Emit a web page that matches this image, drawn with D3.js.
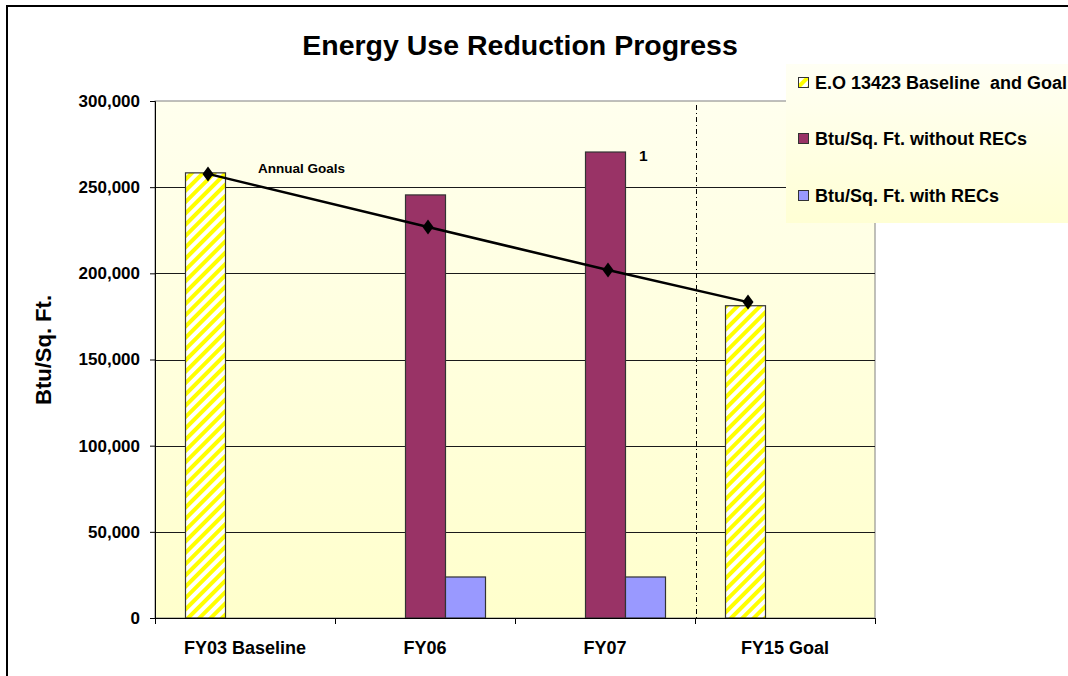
<!DOCTYPE html>
<html>
<head>
<meta charset="utf-8">
<script src="https://cdn.jsdelivr.net/npm/d3@7"></script>
<style>
  html, body { margin: 0; padding: 0; background: #fff; }
  svg { display: block; font-family: "Liberation Sans", Arial, sans-serif; }
  text { white-space: pre; }
</style>
</head>
<body>
<svg id="chart" width="1068" height="676"></svg>
<script>
// ---- data ----
const categories = ["FY03 Baseline", "FY06", "FY07", "FY15 Goal"];
const seriesNames = ["E.O 13423 Baseline  and Goal", "Btu/Sq. Ft. without RECs", "Btu/Sq. Ft. with RECs"];
const baselineGoal = [258300, null, null, 181200];
const withoutRECs = [null, 245500, 270400, null];
const withRECs = [null, 23800, 23800, null];
const annualGoals = [257700, 226900, 201900, 183300];
const yTicks = [0, 50000, 100000, 150000, 200000, 250000, 300000];
const titleText = "Energy Use Reduction Progress";
const yAxisTitle = "Btu/Sq. Ft.";
const goalLabel = "Annual Goals";
const footnoteMark = "1";

const seriesValues = [baselineGoal, withoutRECs, withRECs];
const seriesFills = ["url(#hatch)", "#993366", "#9999FF"];

// ---- layout ----
const svg = d3.select("#chart");
const plot = { left: 155, right: 875, top: 101, bottom: 618 };

const x = d3.scaleBand().domain(categories).range([plot.left, plot.right]).padding(0);
const inner = d3.scaleBand().domain(seriesNames).range([0, x.bandwidth()]).paddingInner(0).paddingOuter(0.75);
const y = d3.scaleLinear().domain([0, 300000]).range([plot.bottom, plot.top]);

const defs = svg.append("defs");
const pg = defs.append("linearGradient").attr("id", "plotBg").attr("x1", 0).attr("y1", 0).attr("x2", 0).attr("y2", 1);
pg.append("stop").attr("offset", "0%").attr("stop-color", "#FFFFEE");
pg.append("stop").attr("offset", "100%").attr("stop-color", "#FFFFCC");
const lg = defs.append("linearGradient").attr("id", "legBg").attr("x1", 0).attr("y1", 0).attr("x2", 0).attr("y2", 1);
lg.append("stop").attr("offset", "0%").attr("stop-color", "#FFFFF4");
lg.append("stop").attr("offset", "100%").attr("stop-color", "#FFFFD4");
const hatch = defs.append("pattern").attr("id", "hatch").attr("patternUnits", "userSpaceOnUse")
  .attr("width", 8).attr("height", 8).attr("patternTransform", "rotate(45)");
hatch.append("rect").attr("width", 8).attr("height", 8).attr("fill", "#FFFFFF");
hatch.append("rect").attr("width", 4).attr("height", 8).attr("fill", "#FFFF00");

// outer border
svg.append("rect").attr("x", 7).attr("y", 6).attr("width", 1080).attr("height", 700)
  .attr("fill", "none").attr("stroke", "#000").attr("stroke-width", 2);

// plot background
svg.append("rect").attr("x", plot.left).attr("y", plot.top)
  .attr("width", plot.right - plot.left).attr("height", plot.bottom - plot.top)
  .attr("fill", "url(#plotBg)").attr("stroke", "#808080").attr("stroke-width", 1);

// gridlines
svg.append("g").selectAll("line").data(yTicks.filter(d => d > 0 && d < 300000)).join("line")
  .attr("x1", plot.left).attr("x2", plot.right)
  .attr("y1", d => Math.round(y(d)) + 0.5).attr("y2", d => Math.round(y(d)) + 0.5)
  .attr("stroke", "#1a1a1a").attr("stroke-width", 1);

// dash-dot separator between FY07 and FY15 Goal
const sepX = x("FY15 Goal");
svg.append("line").attr("x1", sepX + 1.5).attr("x2", sepX + 1.5)
  .attr("y1", plot.top + 4).attr("y2", plot.bottom)
  .attr("stroke", "#000").attr("stroke-width", 1).attr("stroke-dasharray", "5,3,1,3");

// bars
seriesNames.forEach((s, si) => {
  const data = categories.map((c, ci) => ({ c, v: seriesValues[si][ci] })).filter(d => d.v != null);
  svg.append("g").selectAll("rect").data(data).join("rect")
    .attr("x", d => x(d.c) + inner(s) + 0.5)
    .attr("y", d => y(d.v))
    .attr("width", inner.bandwidth())
    .attr("height", d => y(0) - y(d.v))
    .attr("fill", seriesFills[si])
    .attr("stroke", "#333").attr("stroke-width", 1.2);
});

// axes
const yAxis = d3.axisLeft(y).tickValues(yTicks).tickSize(5).tickPadding(10).tickFormat(d3.format(","));
const gy = svg.append("g").attr("transform", `translate(${plot.left},0)`).call(yAxis);
gy.select(".domain").attr("stroke", "#000");
gy.selectAll(".tick line").attr("stroke", "#000");
gy.selectAll(".tick text").attr("font-size", 17).attr("font-weight", "bold").attr("fill", "#000")
  .attr("font-family", "'Liberation Sans', Arial, sans-serif");

const xAxis = d3.axisBottom(x).tickSize(0).tickPadding(23);
const gx = svg.append("g").attr("transform", `translate(0,${plot.bottom})`).call(xAxis);
gx.select(".domain").attr("stroke", "#000");
gx.selectAll(".tick text").attr("font-size", 18).attr("font-weight", "bold").attr("fill", "#000")
  .attr("font-family", "'Liberation Sans', Arial, sans-serif");
const bounds = categories.map(c => x(c)).concat([plot.right]);
gx.append("g").selectAll("line").data(bounds).join("line")
  .attr("x1", d => d + 0.5).attr("x2", d => d + 0.5).attr("y1", 0).attr("y2", 6)
  .attr("stroke", "#000");

// annual goals line
const goalX = (ci) => {
  const si = seriesValues.findIndex(arr => arr[ci] != null);
  return x(categories[ci]) + inner(seriesNames[si]) + inner.bandwidth() / 2 + 3;
};
const goalPts = annualGoals.map((v, i) => [goalX(i), y(v)]);
svg.append("path").attr("d", d3.line()(goalPts)).attr("fill", "none")
  .attr("stroke", "#000").attr("stroke-width", 2.5);
svg.append("g").selectAll("path").data(goalPts).join("path")
  .attr("transform", d => `translate(${d[0]},${d[1]})`)
  .attr("d", "M0,-7.5L5.5,0L0,7.5L-5.5,0Z").attr("fill", "#000");

// labels
svg.append("text").attr("x", goalPts[0][0] + 50).attr("y", goalPts[0][1] - 1)
  .attr("font-size", 13.5).attr("font-weight", "bold").text(goalLabel);
const fyi = categories.indexOf("FY07");
svg.append("text")
  .attr("x", x(categories[fyi]) + inner(seriesNames[1]) + inner.bandwidth() + 14)
  .attr("y", y(withoutRECs[fyi]) + 9)
  .attr("font-size", 15.5).attr("font-weight", "bold").text(footnoteMark);

// title
svg.append("text").attr("x", 520).attr("y", 55).attr("text-anchor", "middle")
  .attr("font-size", 28.5).attr("font-weight", "bold").text(titleText);

// y-axis title
svg.append("text").attr("transform", "translate(51,350) rotate(-90)").attr("text-anchor", "middle")
  .attr("font-size", 22).attr("font-weight", "bold").text(yAxisTitle);

// legend
const leg = svg.append("g");
leg.append("rect").attr("x", 786).attr("y", 64).attr("width", 290).attr("height", 159).attr("fill", "url(#legBg)");
const legY = [77, 133, 190];
seriesNames.forEach((s, i) => {
  leg.append("rect").attr("x", 798.5).attr("y", legY[i] + 0.5).attr("width", 10).attr("height", 10)
    .attr("fill", seriesFills[i]).attr("stroke", "#333").attr("stroke-width", 1);
  leg.append("text").attr("x", 815).attr("y", legY[i] + 11.5)
    .attr("font-size", 18).attr("font-weight", "bold").text(s);
});
</script>
</body>
</html>
